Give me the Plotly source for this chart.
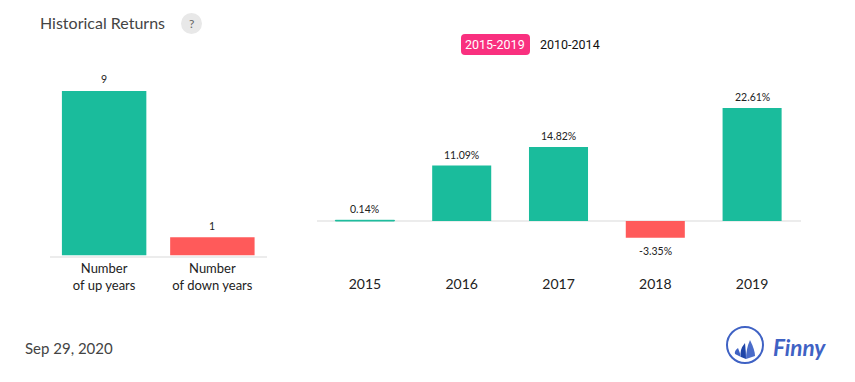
import plotly.graph_objects as go

W, H = 855, 382
GREEN, RED = "#1abc9c", "#ff5a5a"
AXIS = "#ececec"

count_labels = ["Number<br>of up years", "Number<br>of down years"]
count_values = [9, 1]
count_colors = [GREEN, RED]
years = ["2015", "2016", "2017", "2018", "2019"]
returns = [0.14, 11.09, 14.82, -3.35, 22.61]
return_labels = ["0.14%", "11.09%", "14.82%", "-3.35%", "22.61%"]
title_text = "Historical Returns"
date_text = "Sep 29, 2020"
range_labels = ["2015-2019", "2010-2014"]


def px(x):
    return x / W


def py(y):
    return 1 - y / H


return_colors = [GREEN if v >= 0 else RED for v in returns]

fig = go.Figure()
fig.add_bar(
    x=count_labels, y=count_values, xaxis="x", yaxis="y",
    marker=dict(color=count_colors, line=dict(width=0)),
    cliponaxis=False, hoverinfo="x+y",
)
fig.add_bar(
    x=years, y=returns, xaxis="x2", yaxis="y2", width=[0.61] * len(years),
    # the thin 2015 bar keeps a same-colour outline so it stays visible
    marker=dict(color=return_colors, line=dict(color=return_colors, width=[1, 0, 0, 0, 0])),
    cliponaxis=False, hoverinfo="x+y",
)

VALUE_FONT = dict(family="Lato", size=10.5, color="#222222")
for i, v in enumerate(count_values):
    fig.add_annotation(x=i, y=v, xref="x", yref="y", text=str(v), showarrow=False,
                       yanchor="middle", yshift=11.5, font=VALUE_FONT)
# on a category axis an annotation's x is the category's index
for i, (v, s) in enumerate(zip(returns, return_labels)):
    fig.add_annotation(x=i, y=v, xref="x2", yref="y2", text=s, showarrow=False,
                       yanchor="middle", yshift=11 if v >= 0 else -13, font=VALUE_FONT)


def text(x, y, s, size, color="#333333", family="Lato", anchor="left"):
    fig.add_annotation(
        x=px(x), y=py(y), xref="paper", yref="paper", text=s, showarrow=False,
        xanchor=anchor, yanchor="middle", borderpad=0, align=anchor,
        font=dict(family=family, size=size, color=color),
    )


text(38.5, 22.5, title_text, 16, "#444444")
text(23.5, 347.5, date_text, 15, "#444444")
text(191.5, 23.5, "?", 12, "#666666", anchor="center")
text(495.5, 44.5, range_labels[0], 12.5, "#ffffff", "Roboto", anchor="center")
text(570, 44.5, range_labels[1], 12.5, "#111111", "Roboto", anchor="center")
text(772, 347, "<b><i>Finny</i></b>", 22.5, "#3f62c4", "Lato")

paper = dict(xref="paper", yref="paper", layer="above")
shapes = [
    dict(type="circle", x0=px(181), x1=px(202), y0=py(34), y1=py(13), fillcolor="#e8e8e8", line_width=0, xref="paper", yref="paper", layer="below"),
    dict(type="path", path=(
        f"M{px(465)},{py(34)} L{px(526)},{py(34)} Q{px(530)},{py(34)} {px(530)},{py(38)} "
        f"L{px(530)},{py(51)} Q{px(530)},{py(55)} {px(526)},{py(55)} L{px(465)},{py(55)} "
        f"Q{px(461)},{py(55)} {px(461)},{py(51)} L{px(461)},{py(38)} Q{px(461)},{py(34)} {px(465)},{py(34)} Z"),
        fillcolor="#f9307f", line_width=0, xref="paper", yref="paper", layer="below"),
    dict(type="circle", x0=px(727), x1=px(763), y0=py(363), y1=py(327), fillcolor="rgba(0,0,0,0)",
         line=dict(color="#3f62c4", width=2), **paper),
    dict(type="path", path=(
        f"M{px(750)},{py(340)} Q{px(755)},{py(350)} {px(755)},{py(356)} L{px(746)},{py(359)} "
        f"Q{px(746)},{py(349)} {px(750)},{py(340)} Z"), fillcolor="#4a6cc9", line_width=0, **paper),
    dict(type="path", path=(
        f"M{px(745)},{py(343)} Q{px(746)},{py(352)} {px(746)},{py(359)} L{px(741)},{py(357)} "
        f"Q{px(739)},{py(350)} {px(745)},{py(343)} Z"), fillcolor="#1f45a8", line_width=0, **paper),
    dict(type="path", path=(
        f"M{px(738)},{py(348)} Q{px(740)},{py(353)} {px(741)},{py(357)} L{px(735)},{py(354)} "
        f"Q{px(734)},{py(351)} {px(738)},{py(348)} Z"), fillcolor="#3f62c4", line_width=0, **paper),
]

fig.update_layout(
    width=W, height=H, margin=dict(l=0, r=0, t=0, b=0), autosize=False,
    paper_bgcolor="white", plot_bgcolor="white", showlegend=False, shapes=shapes,
    bargap=0.22,
    xaxis=dict(type="category", domain=[px(50), px(266.5)], anchor="y", showline=True, linecolor=AXIS, linewidth=2,
               showgrid=False, ticks="", fixedrange=True,
               tickfont=dict(family="Lato", size=13, color="#222222")),
    yaxis=dict(domain=[py(255.5), py(80)], anchor="x", range=[0, 9.6], visible=False, fixedrange=True),
    xaxis2=dict(type="category", domain=[px(316.5), px(800.5)], anchor="y2", showline=False, showgrid=False, ticks="",
                fixedrange=True, tickfont=dict(family="Lato", size=14, color="#222222")),
    yaxis2=dict(domain=[py(274), py(90)], anchor="x2", range=[-10.6, 26.2], showgrid=False,
                showticklabels=False, zeroline=True, zerolinecolor=AXIS, zerolinewidth=2,
                fixedrange=True),
)

fig.write_html("out.html", post_script="document.body.style.margin='0';", config=dict(displayModeBar=False))
